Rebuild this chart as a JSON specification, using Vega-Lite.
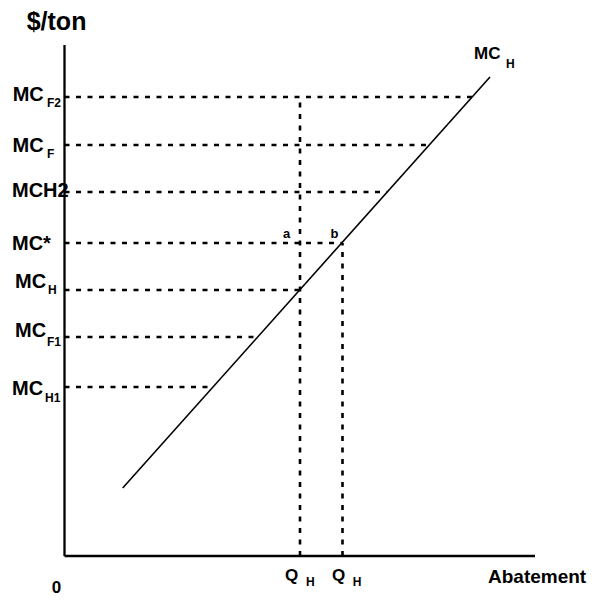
{
  "$schema": "https://vega.github.io/schema/vega-lite/v6.json",
  "width": 470,
  "height": 511,
  "autosize": {"type": "none"},
  "padding": {"left": 64.5, "top": 45, "right": 60.5, "bottom": 44},
  "background": "white",
  "config": {"view": {"stroke": null}},
  "datasets": {
    "axes": [
      {"x0": 0, "x1": 0, "y0": 0, "y1": 511},
      {"x0": 0, "x1": 470.5, "y0": 0, "y1": 0}
    ],
    "curve": [
      {"abatement": 58.2, "cost": 68},
      {"abatement": 425.5, "cost": 479}
    ],
    "hlines": [
      {"x0": 0, "x1": 407.6, "y": 459},
      {"x0": 0, "x1": 364.7, "y": 411},
      {"x0": 0, "x1": 322.7, "y": 364},
      {"x0": 0, "x1": 278, "y": 313},
      {"x0": 0, "x1": 235.5, "y": 266},
      {"x0": 0, "x1": 193.1, "y": 219},
      {"x0": 0, "x1": 148.5, "y": 169}
    ],
    "vlines": [
      {"x": 235.5, "y0": 0, "y1": 459},
      {"x": 278, "y0": 0, "y1": 313}
    ],
    "mainLabels": [
      {"x": -51.8, "y": 455, "text": "MC"},
      {"x": -52, "y": 404.5, "text": "MC"},
      {"x": -52.5, "y": 359, "text": "MCH2"},
      {"x": -52.5, "y": 306, "text": "MC*"},
      {"x": -49.5, "y": 268, "text": "MC"},
      {"x": -49.5, "y": 219, "text": "MC"},
      {"x": -52.5, "y": 161, "text": "MC"}
    ],
    "subLabels": [
      {"x": -17.5, "y": 449, "text": "F2"},
      {"x": -17.5, "y": 398, "text": "F"},
      {"x": -16.5, "y": 262, "text": "H"},
      {"x": -17.5, "y": 210, "text": "F1"},
      {"x": -19.5, "y": 154, "text": "H1"},
      {"x": 441.5, "y": 488, "text": "H"},
      {"x": 241.5, "y": -30, "text": "H"},
      {"x": 288.2, "y": -30, "text": "H"}
    ],
    "qLabels": [
      {"x": 220.5, "y": -25, "text": "Q"},
      {"x": 267.5, "y": -25, "text": "Q"},
      {"x": 409.5, "y": 497, "text": "MC"}
    ],
    "bigLabels": [
      {"x": -37.8, "y": 526, "text": "$/ton"}
    ],
    "axisLabels": [
      {"x": 423.5, "y": -27, "text": "Abatement"}
    ],
    "zeroLabel": [
      {"x": -8, "y": -37, "text": "0"}
    ],
    "pointLabels": [
      {"x": 222, "y": 318, "text": "a"},
      {"x": 270, "y": 318, "text": "b"}
    ]
  },
  "resolve": {"scale": {"x": "shared", "y": "shared"}},
  "layer": [
    {
      "data": {"name": "hlines"},
      "mark": {"type": "rule", "strokeDash": [5, 6.5], "strokeWidth": 2.6, "color": "black"},
      "encoding": {
        "x": {"field": "x0", "type": "quantitative", "scale": {"domain": [0, 470], "nice": false, "zero": false}, "axis": null},
        "x2": {"field": "x1"},
        "y": {"field": "y", "type": "quantitative", "scale": {"domain": [0, 511], "nice": false, "zero": false}, "axis": null}
      }
    },
    {
      "data": {"name": "vlines"},
      "mark": {"type": "rule", "strokeDash": [5, 6.5], "strokeWidth": 2.6, "color": "black"},
      "encoding": {
        "x": {"field": "x", "type": "quantitative"},
        "y": {"field": "y0", "type": "quantitative"},
        "y2": {"field": "y1"}
      }
    },
    {
      "data": {"name": "axes"},
      "mark": {"type": "rule", "strokeWidth": 2.3, "color": "black"},
      "encoding": {
        "x": {"field": "x0", "type": "quantitative"},
        "x2": {"field": "x1"},
        "y": {"field": "y0", "type": "quantitative"},
        "y2": {"field": "y1"}
      }
    },
    {
      "data": {"name": "curve"},
      "mark": {"type": "line", "strokeWidth": 1.6, "color": "black"},
      "encoding": {
        "x": {"field": "abatement", "type": "quantitative"},
        "y": {"field": "cost", "type": "quantitative"}
      }
    },
    {
      "data": {"name": "mainLabels"},
      "mark": {"type": "text", "font": "Liberation Sans", "fontWeight": "bold", "fontSize": 20, "align": "left", "baseline": "alphabetic", "color": "black"},
      "encoding": {
        "x": {"field": "x", "type": "quantitative"},
        "y": {"field": "y", "type": "quantitative"},
        "text": {"field": "text"}
      }
    },
    {
      "data": {"name": "subLabels"},
      "mark": {"type": "text", "font": "Liberation Sans", "fontWeight": "bold", "fontSize": 12, "align": "left", "baseline": "alphabetic", "color": "black"},
      "encoding": {
        "x": {"field": "x", "type": "quantitative"},
        "y": {"field": "y", "type": "quantitative"},
        "text": {"field": "text"}
      }
    },
    {
      "data": {"name": "qLabels"},
      "mark": {"type": "text", "font": "Liberation Sans", "fontWeight": "bold", "fontSize": 17, "align": "left", "baseline": "alphabetic", "color": "black"},
      "encoding": {
        "x": {"field": "x", "type": "quantitative"},
        "y": {"field": "y", "type": "quantitative"},
        "text": {"field": "text"}
      }
    },
    {
      "data": {"name": "bigLabels"},
      "mark": {"type": "text", "font": "Liberation Sans", "fontWeight": "bold", "fontSize": 25, "align": "left", "baseline": "alphabetic", "color": "black"},
      "encoding": {
        "x": {"field": "x", "type": "quantitative"},
        "y": {"field": "y", "type": "quantitative"},
        "text": {"field": "text"}
      }
    },
    {
      "data": {"name": "axisLabels"},
      "mark": {"type": "text", "font": "Liberation Sans", "fontWeight": "bold", "fontSize": 19, "align": "left", "baseline": "alphabetic", "color": "black"},
      "encoding": {
        "x": {"field": "x", "type": "quantitative"},
        "y": {"field": "y", "type": "quantitative"},
        "text": {"field": "text"}
      }
    },
    {
      "data": {"name": "zeroLabel"},
      "mark": {"type": "text", "font": "Liberation Sans", "fontWeight": "bold", "fontSize": 17, "align": "center", "baseline": "alphabetic", "color": "black"},
      "encoding": {
        "x": {"field": "x", "type": "quantitative"},
        "y": {"field": "y", "type": "quantitative"},
        "text": {"field": "text"}
      }
    },
    {
      "data": {"name": "pointLabels"},
      "mark": {"type": "text", "font": "Liberation Sans", "fontWeight": "bold", "fontSize": 13, "align": "center", "baseline": "alphabetic", "color": "black"},
      "encoding": {
        "x": {"field": "x", "type": "quantitative"},
        "y": {"field": "y", "type": "quantitative"},
        "text": {"field": "text"}
      }
    }
  ]
}
